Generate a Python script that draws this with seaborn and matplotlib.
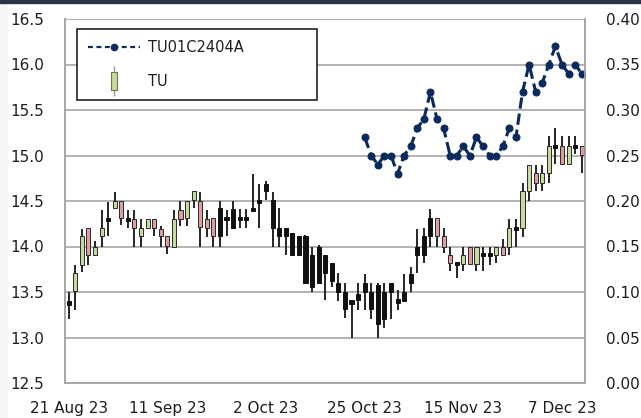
import numpy as np
import matplotlib
matplotlib.use("Agg")
import matplotlib.pyplot as plt
import seaborn as sns
from matplotlib.lines import Line2D
from matplotlib.patches import Rectangle
from matplotlib.legend_handler import HandlerTuple

# ---- data ----
tick_pos = [0, 15, 30, 45, 60, 75]
tick_labels = ["21 Aug 23", "11 Sep 23", "2 Oct 23", "25 Oct 23", "15 Nov 23", "7 Dec 23"]

# TU candles: open, high, low, close, style (g = up, r = down, k = black)
tu_open = [13.38, 13.51, 13.80, 14.20, 13.91, 14.11, 14.30, 14.42, 14.50, 14.30,
           14.30, 14.11, 14.20, 14.30, 14.19, 14.11, 14.00, 14.40, 14.31, 14.51,
           14.50, 14.30, 14.31, 14.42, 14.31, 14.41, 14.31, 14.31, 14.42, 14.51,
           14.69, 14.51, 14.20, 14.20, 14.15, 14.11, 14.11, 13.91, 14.00, 13.91,
           13.82, 13.60, 13.50, 13.39, 13.48, 13.60, 13.50, 13.58, 13.50, 13.60,
           13.40, 13.50, 13.70, 14.00, 14.11, 14.31, 14.31, 14.11, 13.91, 13.81,
           13.81, 14.00, 13.81, 13.91, 13.91, 13.91, 14.00, 14.00, 14.20, 14.20,
           14.61, 14.81, 14.70, 14.81, 15.10, 15.10, 14.91, 15.10, 15.10]
tu_high = [13.50, 13.80, 14.19, 14.20, 14.06, 14.40, 14.49, 14.60, 14.50, 14.40,
           14.40, 14.30, 14.30, 14.30, 14.22, 14.11, 14.40, 14.50, 14.50, 14.61,
           14.60, 14.40, 14.31, 14.50, 14.40, 14.50, 14.41, 14.41, 14.80, 14.69,
           14.72, 14.60, 14.42, 14.20, 14.15, 14.11, 14.13, 14.00, 14.02, 13.91,
           13.82, 13.71, 13.60, 13.40, 13.60, 13.70, 13.60, 13.60, 13.60, 13.60,
           13.52, 13.70, 13.78, 14.19, 14.20, 14.41, 14.31, 14.20, 14.00, 13.81,
           14.00, 14.00, 14.00, 14.00, 14.00, 14.00, 14.08, 14.30, 14.30, 14.70,
           14.90, 14.90, 14.90, 15.21, 15.30, 15.21, 15.21, 15.21, 15.10]
tu_low = [13.20, 13.30, 13.72, 13.80, 13.90, 14.00, 14.11, 14.42, 14.24, 14.20,
          14.00, 14.00, 14.20, 14.12, 14.00, 13.92, 14.00, 14.22, 14.22, 14.42,
          14.00, 14.10, 14.00, 14.00, 14.11, 14.20, 14.20, 14.20, 14.38, 14.20,
          14.51, 14.00, 14.00, 13.91, 13.91, 13.90, 13.60, 13.50, 13.60, 13.41,
          13.55, 13.40, 13.21, 13.00, 13.30, 13.30, 13.20, 13.00, 13.10, 13.20,
          13.30, 13.40, 13.50, 13.71, 13.82, 14.00, 14.00, 13.93, 13.73, 13.65,
          13.73, 13.81, 13.73, 13.73, 13.80, 13.82, 13.91, 13.91, 14.00, 14.10,
          14.50, 14.61, 14.61, 14.70, 14.91, 14.91, 14.91, 15.02, 14.81]
tu_close = [13.38, 13.71, 14.11, 13.91, 14.00, 14.20, 14.30, 14.50, 14.31, 14.30,
            14.20, 14.20, 14.30, 14.20, 14.11, 14.01, 14.30, 14.30, 14.50, 14.61,
            14.21, 14.20, 14.11, 14.11, 14.31, 14.20, 14.31, 14.31, 14.39, 14.48,
            14.61, 14.20, 14.11, 14.11, 13.91, 13.91, 13.60, 13.55, 13.60, 13.71,
            13.62, 13.50, 13.31, 13.39, 13.41, 13.50, 13.31, 13.15, 13.20, 13.50,
            13.40, 13.40, 13.60, 13.91, 13.91, 14.11, 14.11, 14.00, 13.82, 13.81,
            13.91, 13.81, 14.00, 13.91, 13.91, 14.00, 13.91, 14.20, 14.20, 14.61,
            14.90, 14.70, 14.81, 15.10, 15.10, 14.91, 15.10, 15.10, 15.01]
tu_style = list("kggrggkgrkrggrrrgrggrrr" + "k" * 33 + "rrrkgrgkkgrgk" + "ggrggkrgkr")

# TU01C2404A (right axis)
opt_idx = list(range(45, 79))
opt_vals = [0.27, 0.25, 0.24, 0.25, 0.25, 0.23, 0.25, 0.26, 0.28, 0.29,
            0.32, 0.29, 0.28, 0.25, 0.25, 0.26, 0.25, 0.27, 0.26, 0.25,
            0.25, 0.26, 0.28, 0.27, 0.32, 0.35, 0.32, 0.33, 0.35, 0.37,
            0.35, 0.34, 0.35, 0.34]

# ---- styling ----
sns.set_style("white")
plt.rcParams['font.family'] = ['DejaVu Sans']
grid_col = '#a6a6a6'
text_col = '#1e1e1e'
navy = '#0b2a5c'
face = {'g': '#c6da9e', 'r': '#e39c9c', 'k': '#111111'}

fig = plt.figure(figsize=(6.41, 4.18), dpi=100)
ax = fig.add_axes([65 / 641, 35 / 418, 520 / 641, 364 / 418])
ax2 = ax.twinx()

# top band and faint left strip
fig.add_artist(Rectangle((0, 1 - 3 / 418), 1, 3 / 418, transform=fig.transFigure,
                         color='#2b3447', zorder=10))
fig.add_artist(Rectangle((0, 0), 7 / 641, 1 - 3 / 418, transform=fig.transFigure,
                         color='#f4f6f8', zorder=0))

# candles
x = np.arange(len(tu_open))
o = np.array(tu_open); c = np.array(tu_close)
hi = np.array(tu_high); lo = np.array(tu_low)
ax.vlines(x, lo, hi, color='#151515', linewidth=1.3, zorder=2)
for i in x:
    st = tu_style[i]
    b0, b1 = min(o[i], c[i]), max(o[i], c[i])
    if b1 - b0 < 0.02:
        b0, b1 = (b0 + b1) / 2 - 0.018, (b0 + b1) / 2 + 0.018
    ax.bar(i, b1 - b0, bottom=b0, width=0.62, color=face[st],
           edgecolor='#2a2a2a' if st != 'k' else '#111111', linewidth=0.7, zorder=3)

ax.set_xlim(-0.56, 78.5)
ax.set_ylim(12.5, 16.5)
ax.set_yticks(np.arange(12.5, 16.51, 0.5))
ax.set_yticklabels([f"{v:.1f}" for v in np.arange(12.5, 16.51, 0.5)])
ax.set_xticks(tick_pos)
ax.set_xticklabels(tick_labels)
ax.yaxis.grid(True, color=grid_col, linewidth=1.2)
ax.set_axisbelow(True)
ax.tick_params(axis='y', length=0, pad=15, labelsize=11, labelcolor=text_col)
ax.tick_params(axis='x', length=0, pad=13, labelsize=11, labelcolor=text_col)

# option line
sns.lineplot(x=opt_idx, y=opt_vals, ax=ax2, color=navy, linestyle='--', linewidth=2.2,
             marker='o', markersize=5, markeredgecolor=navy, dashes=(2.2, 1.6))
ax2.set_ylim(0, 0.4)
ax2.set_yticks(np.arange(0, 0.401, 0.05))
ax2.set_yticklabels([f"{v:.2f}" for v in np.arange(0, 0.401, 0.05)])
ax2.tick_params(axis='y', length=0, pad=15, labelsize=11, labelcolor=text_col)
ax2.set_ylabel("")

for a in (ax, ax2):
    for s in a.spines.values():
        s.set_color(grid_col)
        s.set_linewidth(1.2)
    a.spines['top'].set_visible(False)

# legend
line_h = Line2D([], [], color=navy, linestyle='--', dashes=(2.2, 1.6), linewidth=1.6,
                marker='o', markersize=4.5)
wick_h = Line2D([], [], color='#9a9a9a', linestyle='none', marker='|', markersize=22,
                markeredgewidth=1.0)
body_h = Line2D([], [], linestyle='none', markersize=13, markerfacecolor=face['g'],
                markeredgecolor='#6a7a50', markeredgewidth=0.8,
                marker=[(-0.3, -1), (0.3, -1), (0.3, 1), (-0.3, 1), (-0.3, -1)])
leg = ax2.legend([line_h, (wick_h, body_h)], ["TU01C2404A", "TU"],
                 handler_map={tuple: HandlerTuple(ndivide=1)},
                 loc='upper left', bbox_to_anchor=(0.023, 0.35, 0.4615, 0.623),
                 mode='expand', borderaxespad=0, fontsize=10.5, numpoints=1,
                 handlelength=3.6, handletextpad=0.5, labelspacing=1.3,
                 borderpad=0.75, fancybox=False, framealpha=1, edgecolor='#111111')
leg.get_frame().set_linewidth(1.1)
for t in leg.get_texts():
    t.set_color(text_col)

fig.savefig("out.png", dpi=100)
